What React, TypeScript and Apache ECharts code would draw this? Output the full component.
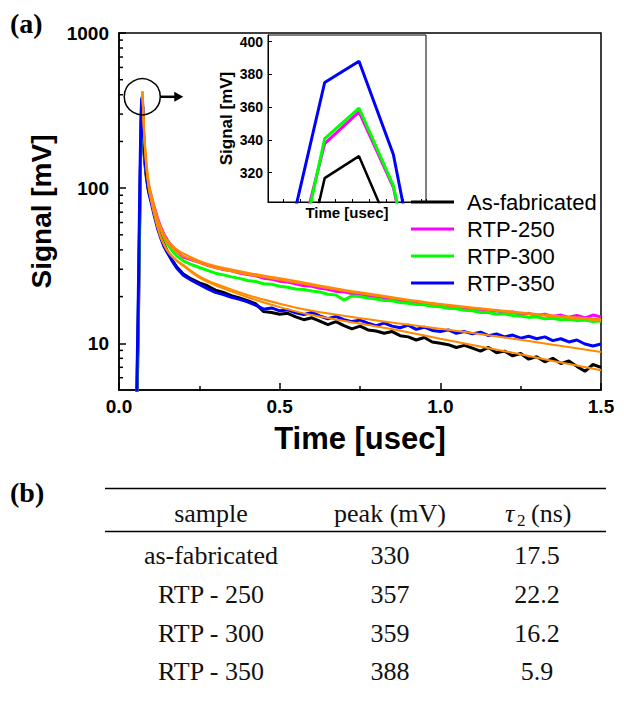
import React, { useEffect, useRef } from "react";
import * as echarts from "echarts";

// time axis of the measured transients (µs)
const TIME = [
  0.04, 0.05, 0.055, 0.06, 0.064, 0.0664, 0.0684, 0.0704, 0.0724, 0.0744, 0.0764, 0.0784, 0.0804,
  0.085, 0.09, 0.095, 0.1, 0.11, 0.12, 0.13, 0.14, 0.15, 0.165, 0.18, 0.2,
  0.225, 0.25, 0.275, 0.3, 0.325, 0.35, 0.375, 0.4, 0.425, 0.45,
  0.475, 0.5, 0.525, 0.55, 0.575, 0.6, 0.625, 0.65, 0.675, 0.7,
  0.725, 0.75, 0.775, 0.8, 0.825, 0.85, 0.875, 0.9, 0.925, 0.95,
  0.975, 1.0, 1.025, 1.05, 1.075, 1.1, 1.125, 1.15, 1.175, 1.2,
  1.225, 1.25, 1.275, 1.3, 1.325, 1.35, 1.375, 1.4, 1.425, 1.45,
  1.475, 1.5,
];

const AS_FAB = [
  1, 1.5, 3, 12, 50, 120, 225, 316.6, 330, 281, 200, 165, 145,
  118, 100, 90, 84, 70, 58, 49, 43.5, 39.5, 34.5, 31, 28,
  26, 24.5, 23.5, 22, 21.3, 20.3, 19.6, 18.8, 18.0, 16.0,
  15.8, 15.4, 15.6, 14.8, 14.2, 14.6, 13.9, 13.2, 13.8, 13.0,
  12.4, 12.9, 12.2, 12.0, 11.6, 11.9, 11.2, 11.0, 10.5, 10.9,
  10.2, 10.0, 9.8, 9.4, 9.7, 9.3, 8.9, 9.4, 8.7, 8.9,
  8.3, 8.6, 7.9, 8.2, 7.6, 8.0, 7.4, 7.7, 7.1, 6.6,
  7.3, 7.0,
];

const RTP_250 = [
  1, 1.5, 4, 15, 60, 130, 254, 337.7, 357, 311, 211, 180, 158,
  128, 110, 97, 89, 75, 64, 56, 50.5, 46.5, 42, 39, 36,
  34.5, 33.2, 31.8, 30.8, 29.9, 29.3, 28.4, 27.8, 27.2, 26.3,
  25.9, 25.1, 24.8, 24.2, 23.5, 23.3, 22.6, 22.3, 21.6, 21.5,
  20.9, 20.6, 20.1, 19.9, 19.4, 19.3, 18.6, 18.8, 18.2, 18.0,
  17.6, 17.7, 17.2, 17.0, 16.9, 16.5, 16.6, 16.1, 16.2, 15.8,
  15.9, 15.4, 15.6, 15.1, 15.4, 14.9, 15.2, 14.7, 15.1, 14.6,
  15.2, 14.8,
];

const RTP_300 = [
  1, 1.5, 4, 16, 58, 125, 243.5, 340.7, 359.4, 312, 215, 178, 155,
  125, 106, 94, 86, 72, 61, 53.5, 48, 44, 39.5, 36.5, 34,
  32.2, 30.8, 29.5, 28.3, 27.6, 26.8, 26.2, 25.4, 25.0, 24.2,
  24.0, 23.3, 23.0, 22.4, 22.2, 21.7, 21.4, 20.7, 20.5, 19.0,
  20.2, 20.0, 19.6, 19.3, 18.9, 18.8, 18.3, 18.1, 17.8, 17.7,
  17.3, 17.2, 16.8, 16.7, 16.3, 16.2, 15.8, 15.8, 15.4, 15.5,
  15.1, 15.0, 14.7, 14.8, 14.4, 14.5, 14.2, 14.3, 14.0, 14.1,
  13.8, 13.9,
];

const RTP_350 = [
  1, 2, 4.5, 20, 80, 170, 284.5, 375, 388, 331, 224, 180, 155,
  122, 102, 89, 81, 66, 55, 47.5, 42, 38.5, 34, 30.5, 27.5,
  25.5, 24, 22.5, 21.3, 20.6, 19.8, 19.2, 18.5, 17.6, 16.6,
  16.9, 16.2, 16.4, 15.7, 15.3, 15.8, 15.0, 14.4, 14.9, 14.2,
  13.8, 14.1, 13.5, 13.0, 13.5, 12.9, 12.6, 13.1, 12.3, 12.7,
  12.1, 11.9, 12.2, 11.6, 11.9, 11.5, 11.8, 11.2, 11.5, 11.0,
  11.3, 10.8, 11.1, 10.7, 11.0, 10.4, 10.7, 10.2, 10.5, 9.9,
  9.6, 9.9,
];

// fitted decay curves
const FIT_TIME = [
  0.0728, 0.076, 0.08, 0.085, 0.09, 0.095, 0.1, 0.11, 0.12, 0.13, 0.15, 0.175,
  0.2, 0.25, 0.3, 0.4, 0.5, 0.6, 0.75, 0.9, 1.0, 1.2, 1.35, 1.5,
];
const FIT_250 = [420, 290, 205, 150, 120, 103, 92, 76, 64, 56, 46.5, 41, 38, 34, 31.5, 28.5, 26.3, 24.1, 21.3, 19.1, 17.9, 16.2, 15.1, 14.3];
const FIT_300 = [420, 285, 200, 146, 116, 99, 88, 73, 62, 54, 44.5, 39.5, 36.5, 33, 30.6, 27.8, 25.7, 23.7, 21.0, 18.9, 17.7, 16.0, 14.9, 14.0];
const FIT_350 = [420, 280, 190, 138, 110, 94, 84, 68, 56.5, 48.5, 40, 35, 32, 27, 24.2, 20.5, 18.0, 16.2, 14.5, 13.2, 12.4, 10.9, 9.8, 8.8];
const FIT_FAB = [420, 280, 190, 137, 109, 93, 83, 67, 56, 48, 39.5, 34.5, 31.5, 26.5, 23.6, 19.8, 17.1, 15.2, 13.4, 11.8, 10.7, 8.9, 7.7, 6.7];

const SERIES_NAMES = ["As-fabricated", "RTP-250", "RTP-300", "RTP-350"];
const SERIES_COLORS = ["#000000", "#ff00ff", "#00ff00", "#0000ff"];
const FIT_COLOR = "#ff8a00";

const Y_MINOR_TICKS = [6, 7, 8, 9, 20, 30, 40, 50, 60, 70, 80, 90, 200, 300, 400, 500, 600, 700, 800, 900];

// table (b)
const TABLE_HEADERS = ["sample", "peak (mV)"];
const TABLE_SAMPLES = ["as-fabricated", "RTP - 250", "RTP - 300", "RTP - 350"];
const TABLE_PEAKS = ["330", "357", "359", "388"];
const TABLE_TAUS = ["17.5", "22.2", "16.2", "5.9"];

export default function App() {
  const ref = useRef<HTMLDivElement>(null);

  useEffect(() => {
    if (!ref.current) return;
    const chart = echarts.init(ref.current, undefined, { renderer: "svg" });
    const sans = "'Liberation Sans', Arial, sans-serif";
    const serif = "'Liberation Serif', 'Times New Roman', serif";
    const pair = (ts: number[], vs: number[]) => ts.map((t, i) => [t, vs[i]]);

    const dataSets = [AS_FAB, RTP_250, RTP_300, RTP_350];
    const fitSets = [FIT_FAB, FIT_250, FIT_300, FIT_350];

    const series: any[] = [];
    dataSets.forEach((d, i) => {
      series.push({
        type: "line",
        name: SERIES_NAMES[i],
        data: pair(TIME, d),
        xAxisIndex: 0,
        yAxisIndex: 0,
        symbol: "none",
        showSymbol: false,
        clip: true,
        lineStyle: { color: SERIES_COLORS[i], width: 3 },
        itemStyle: { color: SERIES_COLORS[i] },
        z: 3,
      });
    });
    fitSets.forEach((d, i) => {
      series.push({
        type: "line",
        name: SERIES_NAMES[i] + " fit",
        data: pair(FIT_TIME, d),
        xAxisIndex: 0,
        yAxisIndex: 0,
        symbol: "none",
        showSymbol: false,
        smooth: 0.35,
        clip: true,
        lineStyle: { color: FIT_COLOR, width: 2 },
        itemStyle: { color: FIT_COLOR },
        z: 4,
      });
    });
    dataSets.forEach((d, i) => {
      series.push({
        type: "line",
        name: SERIES_NAMES[i],
        data: pair(TIME, d),
        xAxisIndex: 1,
        yAxisIndex: 1,
        symbol: "none",
        showSymbol: false,
        clip: true,
        lineStyle: { color: SERIES_COLORS[i], width: i === 0 ? 2.5 : 3 },
        itemStyle: { color: SERIES_COLORS[i] },
        z: 6,
      });
    });

    const G = { left: 119, top: 33, width: 482, height: 357 };
    const I = { left: 268, top: 35, width: 158, height: 167 };

    const option: any = {
      animation: false,
      backgroundColor: "#ffffff",
      grid: [
        { ...G, show: true, borderColor: "#000", borderWidth: 1.5, backgroundColor: "transparent" },
        { ...I, show: true, borderColor: "#000", borderWidth: 1, backgroundColor: "transparent" },
      ],
      legend: {
        data: SERIES_NAMES,
        orient: "vertical",
        left: 411,
        top: 191,
        padding: 0,
        itemWidth: 43,
        itemHeight: 3,
        itemGap: 5,
        icon: "rect",
        selectedMode: false,
        textStyle: {
          fontFamily: sans,
          fontSize: 22,
          lineHeight: 22,
          color: "#000",
          padding: [0, 0, 0, 8],
        },
      },
      xAxis: [
        {
          type: "value",
          gridIndex: 0,
          min: 0,
          max: 1.5,
          interval: 0.5,
          name: "Time [usec]",
          nameLocation: "middle",
          nameGap: 33,
          nameTextStyle: { fontFamily: sans, fontSize: 31, fontWeight: "bold", color: "#000" },
          axisLine: { show: true, lineStyle: { color: "#000", width: 1.5 } },
          axisTick: { show: true, inside: true, length: 7, lineStyle: { color: "#000", width: 1.5 } },
          minorTick: { show: true, splitNumber: 2, length: 4, lineStyle: { color: "#000", width: 1.5 } },
          axisLabel: {
            fontFamily: sans,
            fontSize: 19,
            fontWeight: "bold",
            color: "#000",
            margin: 7,
            formatter: (v: number) => v.toFixed(1),
          },
          splitLine: { show: false },
        },
        {
          type: "value",
          gridIndex: 1,
          min: 0.0671,
          max: 0.0763,
          splitNumber: 9,
          name: "Time [usec]",
          nameLocation: "middle",
          nameGap: 3,
          nameTextStyle: { fontFamily: sans, fontSize: 15, fontWeight: "bold", color: "#000", verticalAlign: "top" },
          axisLine: { show: true, lineStyle: { color: "#000", width: 1 } },
          axisTick: { show: true, inside: true, length: 3, lineStyle: { color: "#000", width: 1 } },
          axisLabel: { show: false },
          splitLine: { show: false },
        },
      ],
      yAxis: [
        {
          type: "log",
          logBase: 10,
          gridIndex: 0,
          min: 5,
          max: 1000,
          name: "Signal [mV]",
          nameLocation: "middle",
          nameRotate: 90,
          nameGap: 64,
          nameTextStyle: { fontFamily: sans, fontSize: 28, fontWeight: "bold", color: "#000" },
          axisLine: { show: true, lineStyle: { color: "#000", width: 1.5 } },
          axisTick: { show: true, inside: true, length: 7, lineStyle: { color: "#000", width: 1.5 } },
          axisLabel: {
            fontFamily: sans,
            fontSize: 19,
            fontWeight: "bold",
            color: "#000",
            margin: 10,
            showMinLabel: false,
            formatter: (v: number) => String(Math.round(v)),
          },
          splitLine: { show: false },
        },
        {
          type: "value",
          gridIndex: 1,
          min: 302,
          max: 404,
          splitNumber: 5,
          name: "Signal [mV]",
          nameLocation: "middle",
          nameRotate: 90,
          nameGap: 33,
          nameTextStyle: { fontFamily: sans, fontSize: 17, fontWeight: "bold", color: "#000" },
          axisLine: { show: true, lineStyle: { color: "#000", width: 1 } },
          axisTick: { show: true, inside: true, length: 4, lineStyle: { color: "#000", width: 1 } },
          axisLabel: {
            fontFamily: sans,
            fontSize: 14,
            fontWeight: "bold",
            color: "#000",
            margin: 5,
            showMinLabel: false,
            showMaxLabel: false,
          },
          splitLine: { show: false },
        },
      ],
      series,
    };

    chart.setOption(option);

    const els: any[] = [];
    // minor log ticks on the main y axis
    Y_MINOR_TICKS.forEach((v) => {
      const y = chart.convertToPixel({ yAxisIndex: 0 } as any, v) as unknown as number;
      els.push({
        type: "line",
        shape: { x1: G.left, y1: y, x2: G.left + 4, y2: y },
        style: { stroke: "#000", lineWidth: 1.5 },
        silent: true,
      });
    });

    // circle around the peak, with arrow to the inset
    const pk = chart.convertToPixel({ gridIndex: 0 } as any, [TIME[8], RTP_350[8]]) as number[];
    const cx = pk[0];
    const cy = pk[1];
    els.push({
      type: "circle",
      shape: { cx, cy, r: 18 },
      style: { stroke: "#000", lineWidth: 1.5, fill: "none" },
      z: 10,
      silent: true,
    });
    els.push({
      type: "line",
      shape: { x1: cx + 18, y1: cy, x2: cx + 33, y2: cy },
      style: { stroke: "#000", lineWidth: 2.5 },
      z: 10,
      silent: true,
    });
    els.push({
      type: "polygon",
      shape: { points: [[cx + 32, cy - 5], [cx + 41, cy], [cx + 32, cy + 5]] },
      style: { fill: "#000" },
      z: 10,
      silent: true,
    });

    // panel letters
    els.push({
      type: "text",
      left: 10,
      top: 9,
      style: { text: "(a)", font: `bold 28px ${serif}`, fill: "#000" },
    });
    els.push({
      type: "text",
      left: 10,
      top: 478,
      style: { text: "(b)", font: `bold 28px ${serif}`, fill: "#000" },
    });

    // table (b)
    const tableLeft = 105;
    const tableRight = 606;
    [488.5, 531.5].forEach((y) => {
      els.push({
        type: "line",
        shape: { x1: tableLeft, y1: y, x2: tableRight, y2: y },
        style: { stroke: "#000", lineWidth: 1.6 },
      });
    });
    const colX = [211, 390, 537];
    const headerY = 513;
    const rowY = [555, 594, 633, 671];
    const tFont = `26px ${serif}`;
    TABLE_HEADERS.forEach((h, i) => {
      els.push({
        type: "text",
        x: colX[i],
        y: headerY,
        style: { text: h, font: tFont, fill: "#111", textAlign: "center", textVerticalAlign: "middle" },
      });
    });
    // τ2 (ns) header
    els.push({
      type: "text",
      x: 505,
      y: headerY,
      style: { text: "τ", font: `italic 26px ${serif}`, fill: "#111", textAlign: "left", textVerticalAlign: "middle" },
    });
    els.push({
      type: "text",
      x: 517,
      y: headerY + 7,
      style: { text: "2", font: `17px ${serif}`, fill: "#111", textAlign: "left", textVerticalAlign: "middle" },
    });
    els.push({
      type: "text",
      x: 531,
      y: headerY,
      style: { text: "(ns)", font: tFont, fill: "#111", textAlign: "left", textVerticalAlign: "middle" },
    });
    TABLE_SAMPLES.forEach((s, r) => {
      const cells = [s, TABLE_PEAKS[r], TABLE_TAUS[r]];
      cells.forEach((c, i) => {
        els.push({
          type: "text",
          x: colX[i],
          y: rowY[r],
          style: { text: c, font: tFont, fill: "#111", textAlign: "center", textVerticalAlign: "middle" },
        });
      });
    });

    chart.setOption({ graphic: els });

    return () => chart.dispose();
  }, []);

  return (
    <div
      ref={ref}
      style={{ position: "fixed", left: 0, top: 0, width: 624, height: 704, background: "#fff" }}
    />
  );
}
